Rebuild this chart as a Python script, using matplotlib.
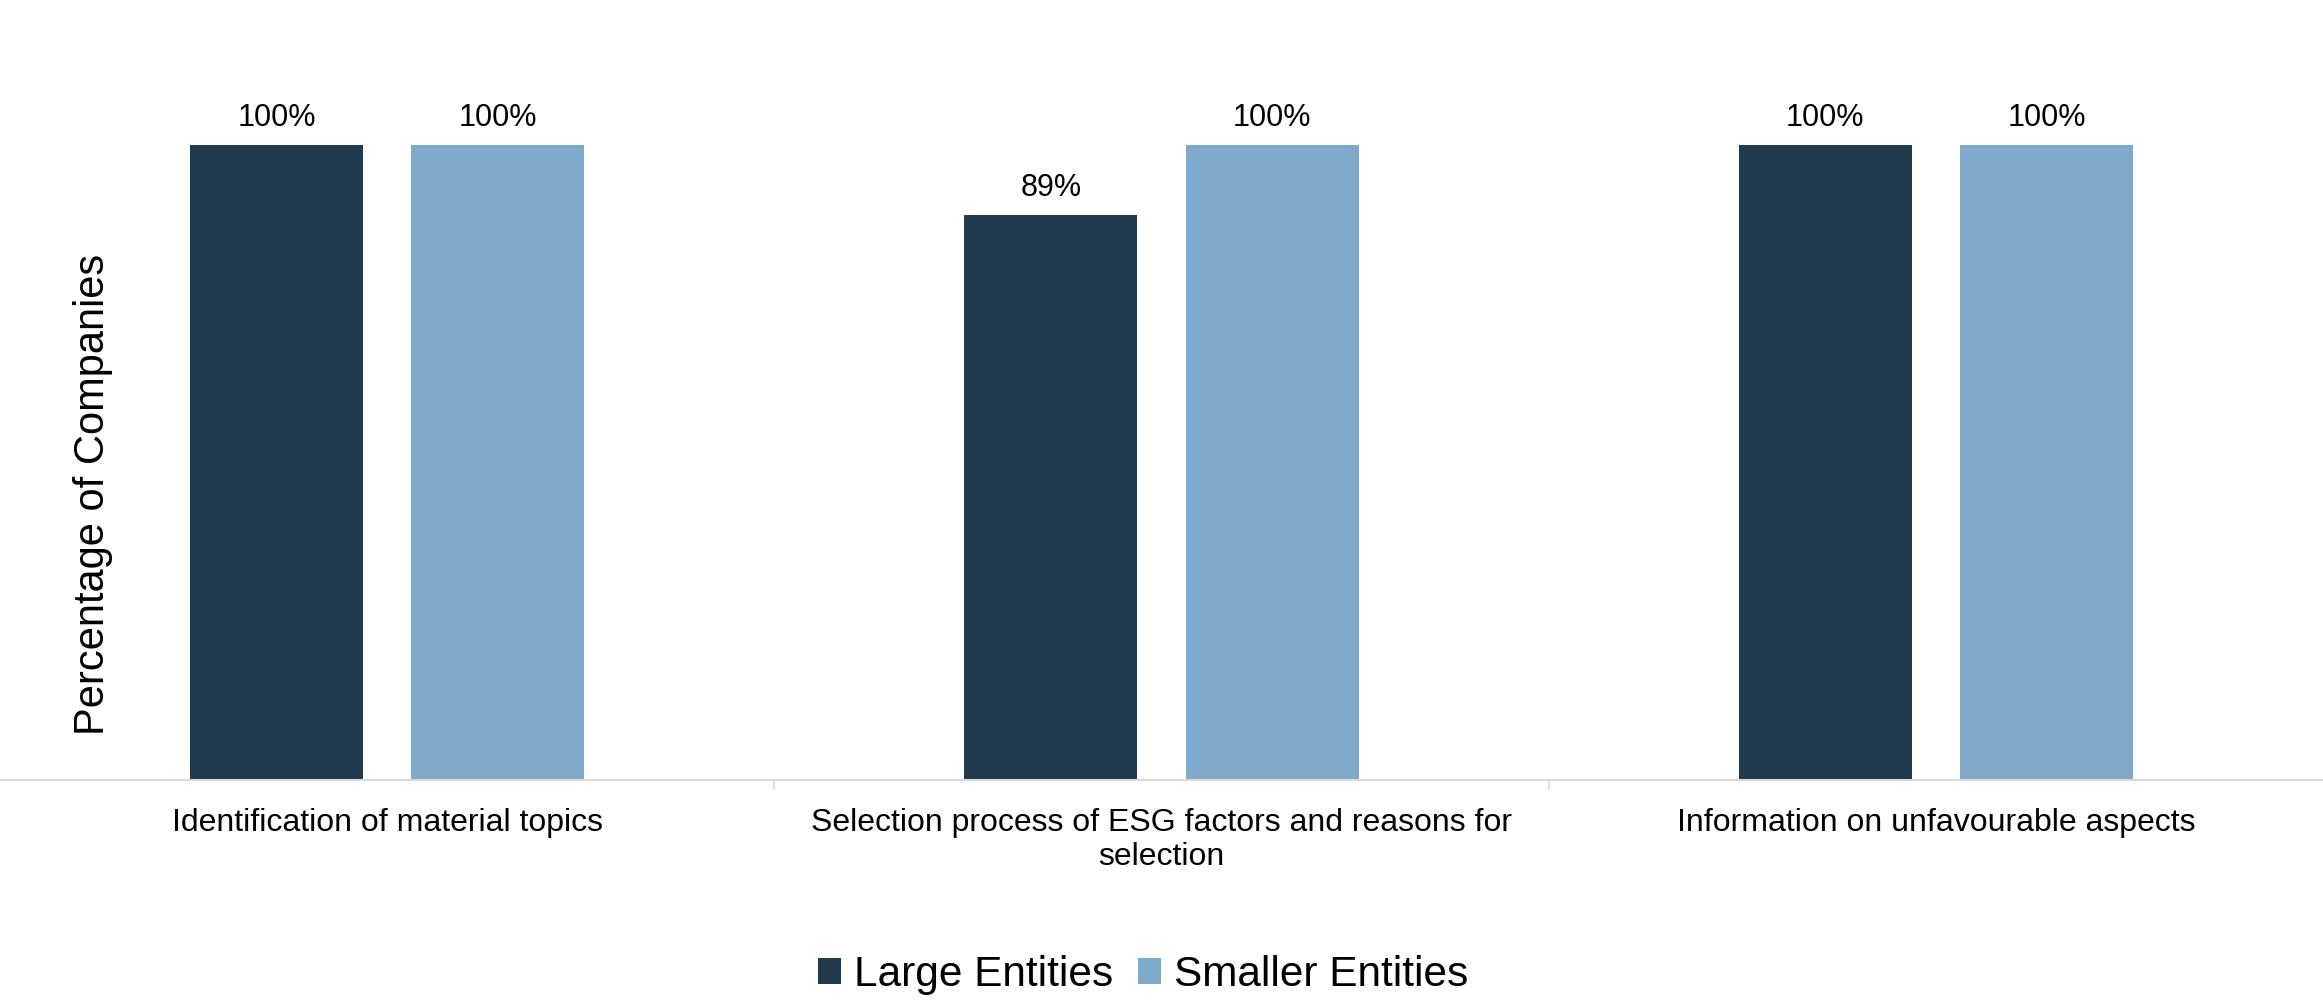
import matplotlib.pyplot as plt
import numpy as np

CATEGORIES = ["Identification of material topics",
              "Selection process of ESG factors and reasons for\nselection",
              "Information on unfavourable aspects"]
SERIES = ["Large Entities", "Smaller Entities"]
LARGE = [100, 89, 100]
SMALLER = [100, 100, 100]
COLORS = ["#223A4E", "#7FA9CB"]

plt.rcParams["font.family"] = ["Liberation Sans", "DejaVu Sans"]

fig = plt.figure(figsize=(23.23, 10), dpi=100)
ax = fig.add_axes([0.0, 0.22, 1.0, 0.74])

x = np.arange(len(CATEGORIES))
width = 0.2235
offset = 0.143
for vals, name, color, sign in zip([LARGE, SMALLER], SERIES, COLORS, [-1, 1]):
    bars = ax.bar(x + sign * offset, vals, width, color=color, label=name)
    for bar, val in zip(bars, vals):
        ax.annotate(f"{val}%", (bar.get_x() + bar.get_width() / 2, bar.get_height()),
                    xytext=(0, 8.5), textcoords="offset points",
                    ha="center", va="bottom", fontsize=22)

ax.set_xlim(-0.5, len(CATEGORIES) - 0.5)
ax.set_ylim(0, 116.5)
ax.set_yticks([])
ax.set_xticks(x)
ax.set_xticklabels(CATEGORIES, fontsize=23, linespacing=1.17)
ax.tick_params(axis="x", which="major", length=0, pad=20)
ax.set_xticks(np.arange(0.5, len(CATEGORIES) - 0.5), minor=True)
ax.tick_params(axis="x", which="minor", length=7.5, width=1.2, color="#D9D9D9")
for side in ["top", "right", "left"]:
    ax.spines[side].set_visible(False)
ax.spines["bottom"].set_color("#D9D9D9")
ax.spines["bottom"].set_linewidth(1.5)

ax.text(0.04, 0.386, "Percentage of Companies", transform=ax.transAxes,
        rotation=90, ha="center", va="center", fontsize=30)

fig.legend(loc="center", bbox_to_anchor=(0.492, 0.025), ncol=2, frameon=False,
           fontsize=30.5, handlelength=0.55, handleheight=0.55, handletextpad=0.3,
           columnspacing=0.6)

fig.savefig("out.png", dpi=100)
